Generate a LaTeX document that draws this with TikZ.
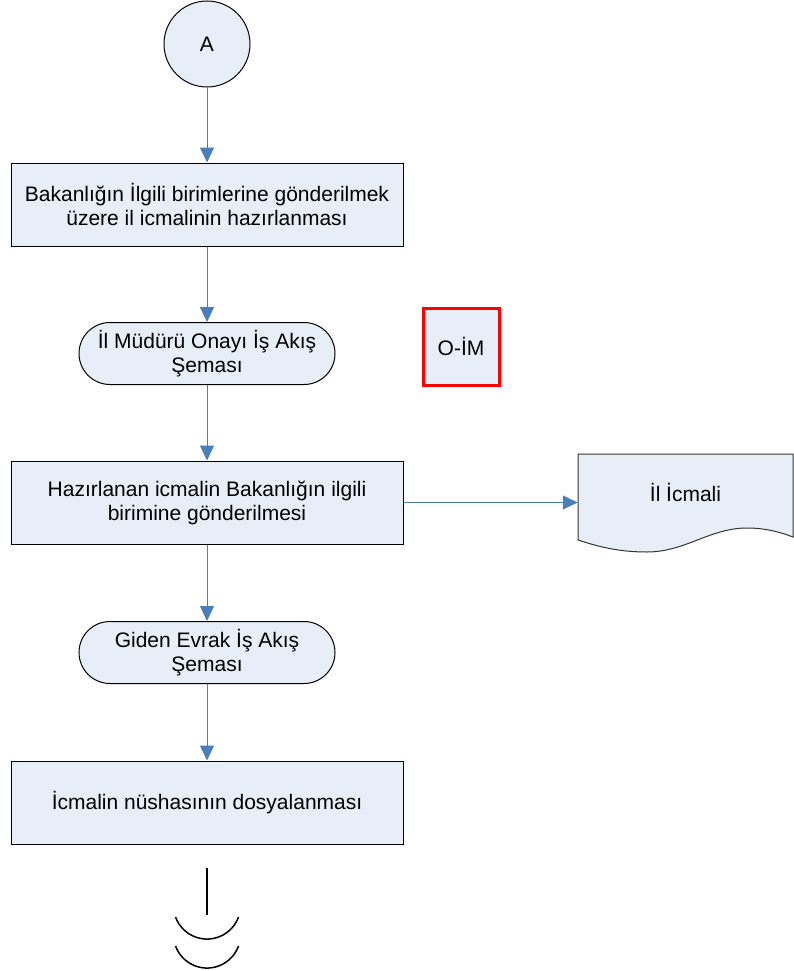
\documentclass[tikz,border=0pt]{standalone}
\usepackage{fontspec}
\setmainfont{Liberation Sans}
\usetikzlibrary{shapes,arrows.meta,positioning}
\definecolor{boxfill}{HTML}{E8EEF7}
\definecolor{flowblue}{HTML}{4A7EBB}
\tikzstyle{process} = [rectangle, minimum width=392pt, minimum height=83pt, align=center, draw=black, line width=1pt, fill=boxfill, font=\fontsize{21}{24}\selectfont]
\tikzstyle{startstop} = [rectangle, rounded corners=31pt, minimum width=256pt, minimum height=62pt, align=center, draw=black, line width=1pt, fill=boxfill, font=\fontsize{21}{24}\selectfont]
\tikzstyle{connector} = [circle, minimum size=86pt, draw=black, line width=1pt, fill=boxfill, font=\fontsize{21}{24}\selectfont]
\tikzstyle{codebox} = [rectangle, minimum width=76pt, minimum height=77pt, draw=red, line width=3pt, fill=boxfill, font=\fontsize{21}{24}\selectfont]
\tikzstyle{doc} = [draw=black!80, line width=1pt, fill=boxfill]
\tikzstyle{arrow} = [line width=1pt, draw=flowblue, -{Triangle[length=15pt,width=14pt,fill=flowblue]}]

\begin{document}
\begin{tikzpicture}[x=1pt,y=-1pt]
	\useasboundingbox (0,0) rectangle (794,971);
	\node[connector] at (207,44) (a) {A};
	\node[process, below=75pt of a] (hazirla) {Bakanlığın İlgili birimlerine gönderilmek\\üzere il icmalinin hazırlanması};
	\node[startstop, below=75.5pt of hazirla] (onay) {İl Müdürü Onayı İş Akış\\Şeması};
	\node[codebox, right=86pt of onay, yshift=7pt] (kod) {O-İM};
	\node[process, below=75.5pt of onay] (gonder) {Hazırlanan icmalin Bakanlığın ilgili\\birimine gönderilmesi};
	\node[startstop, below=76.5pt of gonder] (evrak) {Giden Evrak İş Akış\\Şeması};
	\node[process, below=76.5pt of evrak] (dosya) {İcmalin nüshasının dosyalanması};
	
	% belge sekli
	\path[doc] (578,454) -- (793,454) -- (793,537)
		.. controls (780,532) and (765,528) .. (747,528)
		.. controls (710,528) and (685,552) .. (647,552)
		.. controls (625,552) and (605,549) .. (578,540) -- cycle;
	\node[font=\fontsize{21}{24}\selectfont, minimum width=215pt, minimum height=76pt] at (685.5,492) (icmal) {İl İcmali};
	
	\draw[arrow] (a) -- (hazirla);
	\draw[arrow] (hazirla) -- (onay);
	\draw[arrow] (onay) -- (gonder);
	\draw[arrow] (gonder) -- (evrak);
	\draw[arrow] (evrak) -- (dosya);
	\draw[arrow] (gonder.east) -- (gonder.east -| icmal.west);
	
	% sayfa sonu
	\coordinate[below=23pt of dosya] (son);
	\draw[line width=1.5pt] (son) -- ++(0,47);
	\draw[line width=1.5pt] (238.5,917) arc[start angle=20, end angle=160, radius=33.5];
	\draw[line width=1.5pt] (238.5,946) arc[start angle=20, end angle=160, radius=33.5];
\end{tikzpicture}
\end{document}
